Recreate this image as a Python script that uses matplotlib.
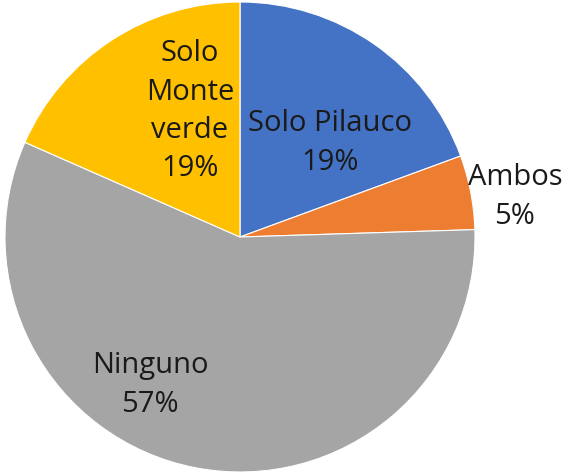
import matplotlib
matplotlib.use("Agg")
import matplotlib.pyplot as plt

labels = ["Solo Pilauco", "Ambos", "Ninguno", "Solo\nMonte\nverde"]
values = [19.4, 5.1, 57.1, 18.4]
pct_labels = ["19%", "5%", "57%", "19%"]
colors = ["#4472C4", "#ED7D31", "#A5A5A5", "#FFC000"]

plt.rcParams['font.family'] = ['Open Sans', 'DejaVu Sans']

fig = plt.figure(figsize=(5.71, 4.73), dpi=100)
W, H = 571, 473
cx, cy, r = 240, 237, 235
ax = fig.add_axes([(cx - r) / W, (H - cy - r) / H, 2 * r / W, 2 * r / H])
wedges, _ = ax.pie(values, colors=colors, startangle=90, counterclock=False,
                   radius=1, wedgeprops=dict(edgecolor="white", linewidth=0.8))
ax.set_xlim(-1, 1)
ax.set_ylim(-1, 1)
ax.set_aspect('equal')
ax.axis('off')

pos = [(0.383, 0.40), (1.17, 0.17), (-0.383, -0.63), (-0.213, 0.535)]
for lab, p, (x, y) in zip(labels, pct_labels, pos):
    ax.text(x, y, f"{lab}\n{p}", ha='center', va='center', fontsize=21,
            color='#1a1a1a', linespacing=1.42, clip_on=False)

fig.savefig("out.png", dpi=100)
